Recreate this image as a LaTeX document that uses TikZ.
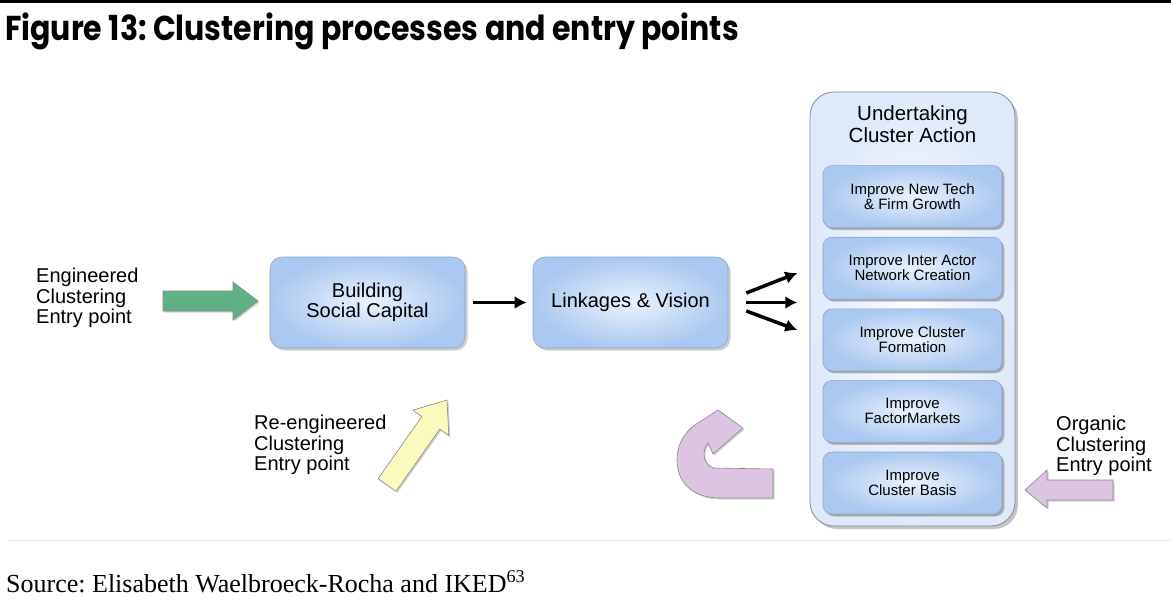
\documentclass[tikz,border=0pt]{standalone}
\usepackage{fontspec}
\setmainfont{Liberation Sans}
\newfontfamily\titlefont{Poppins}
\newfontfamily\sourcefont{Liberation Serif}
\usetikzlibrary{arrows.meta}
\usetikzlibrary{shadows}
\frenchspacing

\definecolor{boxin}{RGB}{234,242,253}
\definecolor{boxout}{RGB}{170,200,240}
\definecolor{boxline}{RGB}{140,165,205}
\definecolor{actin}{RGB}{252,253,255}
\definecolor{actout}{RGB}{222,234,250}
\definecolor{actline}{RGB}{125,140,165}
\definecolor{greenarrow}{RGB}{95,176,132}
\definecolor{yellowarrow}{RGB}{250,250,190}
\definecolor{purplearrow}{RGB}{221,196,226}

\tikzset{
  bluebox/.style={rectangle,rounded corners=12pt,draw=boxline,line width=0.6pt,
    inner color=boxin,outer color=boxout,
    drop shadow={shadow xshift=2.5pt,shadow yshift=-2.5pt,opacity=0.4},
    minimum width=195pt,minimum height=91pt,align=center,
    font=\fontsize{20}{20.5}\selectfont},
  innerbox/.style={bluebox,rounded corners=9pt,minimum width=179pt,minimum height=62pt,
    drop shadow={shadow xshift=1.5pt,shadow yshift=-2pt,opacity=0.4},
    font=\fontsize{15}{15}\selectfont},
  actionbox/.style={rectangle,rounded corners=24pt,draw=actline,line width=0.8pt,
    inner color=actin,outer color=actout,
    drop shadow={shadow xshift=3pt,shadow yshift=-3pt,opacity=0.45},
    minimum width=205pt,minimum height=434pt},
  entrytext/.style={align=left,inner sep=0pt,anchor=west,font=\fontsize{20}{20.5}\selectfont},
  linkarrow/.style={line width=3.5pt,-{Latex[length=12pt,width=13pt]}},
  blockarrow/.style={draw={rgb,255:red,135;green,135;blue,135},line width=0.6pt,
    drop shadow={shadow xshift=1.5pt,shadow yshift=-1.5pt,opacity=0.35}}
}

\begin{document}
\begin{tikzpicture}[x=1pt,y=-1pt]
  \useasboundingbox (0,0) rectangle (1171,600);
  \fill[white] (0,0) rectangle (1171,600);
  \fill[black] (0,0) rectangle (1171,3);
  \node[anchor=base west,inner sep=0pt,font=\titlefont\bfseries\fontsize{30}{32}\selectfont]
    (title) at (5,40) {\scalebox{1}[1.15]{Figure 13: Clustering processes and entry points}};

  % main boxes
  \node[bluebox] (social) at (367.5,302.5) {Building\\Social Capital};
  \node[bluebox] (linkage) at (630.5,302.5) {Linkages \& Vision};
  \node[actionbox] (action) at (912.5,309) {};
  \node[align=center,font=\fontsize{20.5}{22}\selectfont] (actiontitle) at (912.5,124)
    {Undertaking\\Cluster Action};
  \foreach \i/\txt in {1/{Improve New Tech\\\& Firm Growth},
                       2/{Improve Inter Actor\\Network Creation},
                       3/{Improve Cluster\\Formation},
                       4/{Improve\\FactorMarkets},
                       5/{Improve\\Cluster Basis}} {
    \node[innerbox] (act\i) at (912.5,125+71.6*\i) {\txt};
  }

  % connectors
  \draw[linkarrow,shorten <=8pt,shorten >=6pt] (social.east) -- (linkage.west);
  \foreach \a/\b in {-9.5/-29.5,0/0,8.5/27.5} {
    \draw[linkarrow] ([shift={(18,\a)}]linkage.east) -- ([shift={(69,\b)}]linkage.east);
  }

  % entry points
  \node[entrytext] (engineered) at (36,298) {Engineered\\Clustering\\Entry point};
  \node[entrytext] (reengineered) at (254,445) {Re-engineered\\Clustering\\Entry point};
  \node[entrytext] (organic) at (1056,446) {Organic\\Clustering\\Entry point};

  \draw[blockarrow,fill=greenarrow] (163,291) -- (233,291) -- (233,282) -- (258,301)
    -- (233,320) -- (233,311) -- (163,311) -- cycle;
  \draw[blockarrow,fill=yellowarrow] (378,478.7) -- (421.8,416.6) -- (412.8,410.2)
    -- (447,400) -- (448.8,435.6) -- (439.8,429.2) -- (396,491.3) -- cycle;
  \draw[blockarrow,fill=purplearrow] (1113,480) -- (1047,480) -- (1047,470) -- (1025,490)
    -- (1047,508) -- (1047,500) -- (1113,500) -- cycle;
  \draw[blockarrow,fill=purplearrow] (773,469) -- (773,498) -- (720,498)
    .. controls (692,498) and (677,482) .. (677,460)
    .. controls (677,441) and (688,428) .. (701,421) -- (718,410) -- (743,428)
    -- (713,454) -- (708,443) .. controls (702,450) and (702,463) .. (713,468)
    -- cycle;

  % source
  \draw[gray!20,line width=0.8pt] (8,540) -- (1171,540);
  \node[anchor=base west,inner sep=0pt,font=\sourcefont\fontsize{26}{28}\selectfont]
    (source) at (6,592) {Source: Elisabeth Waelbroeck-Rocha and IKED\textsuperscript{63}};
\end{tikzpicture}
\end{document}
